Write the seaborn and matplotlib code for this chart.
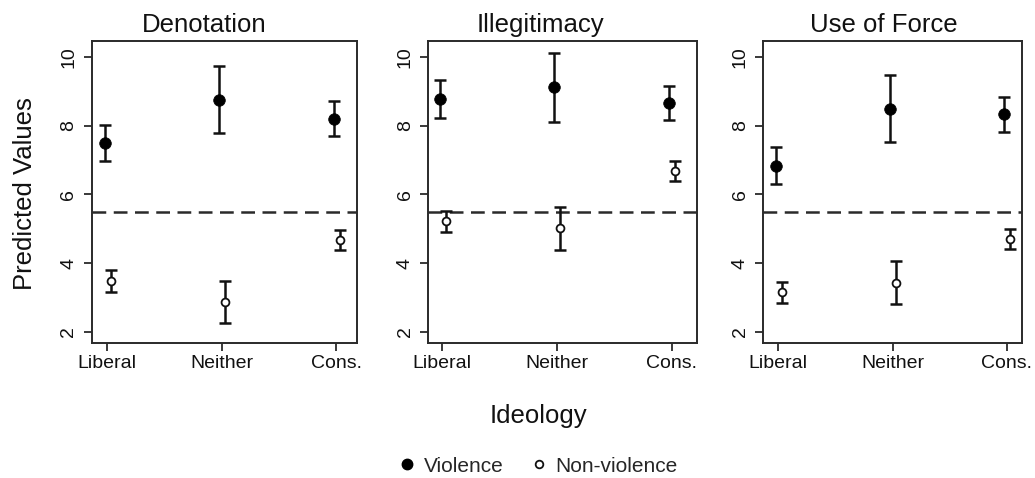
import numpy as np
import pandas as pd
import matplotlib
matplotlib.use("Agg")
import matplotlib.pyplot as plt
from matplotlib.lines import Line2D
import seaborn as sns

# values
panels = ["Denotation", "Illegitimacy", "Use of Force"]
ideology = ["Liberal", "Neither", "Cons."]

viol_mean = [[7.49, 8.75, 8.20], [8.78, 9.12, 8.66], [6.84, 8.49, 8.34]]
viol_lo = [[6.96, 7.78, 7.71], [8.22, 8.12, 8.17], [6.31, 7.52, 7.83]]
viol_hi = [[8.03, 9.75, 8.71], [9.32, 10.13, 9.16], [7.39, 9.48, 8.83]]

nonv_mean = [[3.48, 2.86, 4.67], [5.23, 5.01, 6.69], [3.15, 3.43, 4.70]]
nonv_lo = [[3.15, 2.26, 4.38], [4.90, 4.38, 6.39], [2.83, 2.81, 4.41]]
nonv_hi = [[3.80, 3.48, 4.96], [5.53, 5.63, 6.98], [3.46, 4.06, 4.98]]

threshold = 5.5
yticks = [2, 4, 6, 8, 10]

sns.set_theme(style="ticks")
plt.rcParams["font.family"] = ["Liberation Sans", "DejaVu Sans"]

fig = plt.figure(figsize=(10.35, 4.78), dpi=100)

# axes boxes (figure fractions) and x-limits
boxes = [(0.0889, 0.2824, 0.2560, 0.632),
         (0.4138, 0.2824, 0.2593, 0.632),
         (0.7375, 0.2824, 0.2497, 0.632)]
xlims = [(0.867, 3.18), (0.878, 3.218), (0.869, 3.13)]
title_x = [204, 540, 884]

rows = []
for p, name in enumerate(panels):
    for i, lab in enumerate(ideology):
        rows.append(dict(panel=name, pos=i + 1 - 0.022, group="Violence",
                         est=viol_mean[p][i], lo=viol_lo[p][i], hi=viol_hi[p][i]))
        rows.append(dict(panel=name, pos=i + 1 + 0.03, group="Non-violence",
                         est=nonv_mean[p][i], lo=nonv_lo[p][i], hi=nonv_hi[p][i]))
df = pd.DataFrame(rows)

for p, name in enumerate(panels):
    ax = fig.add_axes(boxes[p])
    d = df[df.panel == name]
    ax.axhline(threshold, color="#2a2a2a", lw=1.8, dashes=(5.5, 3), zorder=1)
    for g in ["Violence", "Non-violence"]:
        dg = d[d.group == g]
        ax.errorbar(dg.pos, dg.est, yerr=[dg.est - dg.lo, dg.hi - dg.est],
                    fmt="none", ecolor="#111111", elinewidth=1.8,
                    capsize=4.5, capthick=1.8, zorder=2)
    dv = d[d.group == "Violence"]
    dn = d[d.group == "Non-violence"]
    sns.scatterplot(x=dv.pos, y=dv.est, ax=ax, s=70, color="black",
                    edgecolor="black", linewidth=0.5, zorder=3, legend=False)
    sns.scatterplot(x=dn.pos, y=dn.est, ax=ax, s=32, color="white",
                    edgecolor="#111111", linewidth=1.3, zorder=3, legend=False)

    ax.set_xlim(*xlims[p])
    ax.set_ylim(1.67, 10.47)
    ax.set_xticks([1, 2, 3])
    ax.set_xticklabels(ideology)
    ax.set_yticks(yticks)
    ax.set_yticklabels([str(v) for v in yticks])
    for lbl in ax.get_yticklabels():
        lbl.set_rotation(90)
        lbl.set_va("center")
    ax.set_xlabel("")
    ax.set_ylabel("")
    ax.tick_params(axis="both", labelsize=14, color="#2a2a2a", width=1.3,
                   length=5.5, labelcolor="#111111")
    ax.tick_params(axis="x", pad=3)
    ax.tick_params(axis="y", pad=5)
    for sp in ax.spines.values():
        sp.set_visible(True)
        sp.set_color("#2a2a2a")
        sp.set_linewidth(1.4)
    fig.text(title_x[p] / 1035, 1 - 32 / 478, name, ha="center",
             va="baseline", fontsize=18.5, color="#111111")

fig.text(25 / 1035, 0.595, "Predicted Values", rotation=90, ha="center",
         va="center", fontsize=18.5, color="#111111")
fig.text(538 / 1035, 1 - 423 / 478, "Ideology", ha="center", va="baseline",
         fontsize=18.5, color="#111111")

handles = [Line2D([], [], ls="none", marker="o", markersize=7.5,
                  markerfacecolor="black", markeredgecolor="black"),
           Line2D([], [], ls="none", marker="o", markersize=5.5,
                  markerfacecolor="white", markeredgecolor="#111111",
                  markeredgewidth=1.3)]
fig.legend(handles, ["Violence", "Non-violence"], loc="center",
           bbox_to_anchor=(536 / 1035, 1 - 466 / 478), ncol=2, frameon=False,
           fontsize=15, handletextpad=0.2, columnspacing=1.1,
           handlelength=1.2, borderpad=0)

fig.savefig("out.png", dpi=100, facecolor="white")
